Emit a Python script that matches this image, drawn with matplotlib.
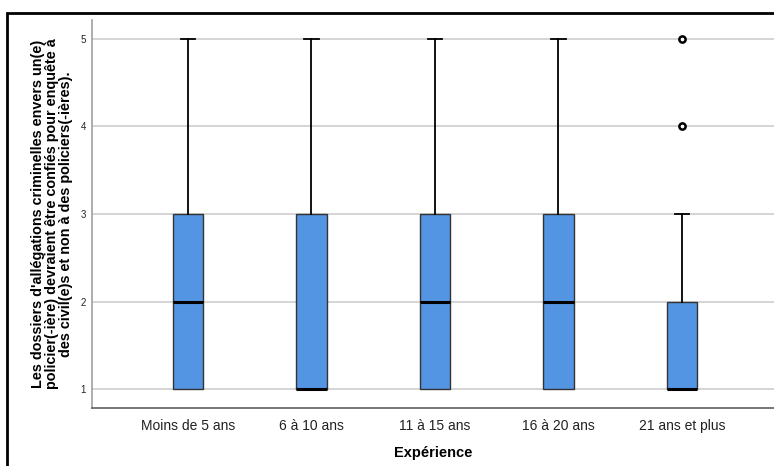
import matplotlib
matplotlib.use("Agg")
import matplotlib.pyplot as plt
from matplotlib.patches import Rectangle

plt.rcParams['font.family'] = ['Liberation Sans', 'DejaVu Sans']

categories = ["Moins de 5 ans", "6 à 10 ans", "11 à 15 ans", "16 à 20 ans", "21 ans et plus"]
whislo = [1, 1, 1, 1, 1]
q1 = [1, 1, 1, 1, 1]
med = [2, 1, 2, 2, 1]
q3 = [3, 3, 3, 3, 2]
whishi = [5, 5, 5, 5, 3]
fliers = [[], [], [], [], [4, 5]]

stats = []
for i, name in enumerate(categories):
    stats.append(dict(label=name, whislo=whislo[i], q1=q1[i], med=med[i],
                      q3=q3[i], whishi=whishi[i], fliers=fliers[i]))

fig = plt.figure(figsize=(7.74, 4.66), dpi=100)
ax = fig.add_axes([92 / 774, 1 - 408 / 466, 1 - 92 / 774, (408 - 20) / 466])

positions = list(range(1, len(categories) + 1))
bp = ax.bxp(stats, positions=positions, widths=0.25, patch_artist=True,
            boxprops=dict(facecolor='#5394e3', edgecolor='#333333', linewidth=1.0),
            medianprops=dict(color='black', linewidth=2.2),
            whiskerprops=dict(color='black', linewidth=1.3),
            capprops=dict(color='black', linewidth=1.3),
            capwidths=0.12,
            flierprops=dict(marker='o', markerfacecolor='white', markeredgecolor='black',
                            markersize=4.5, markeredgewidth=1.8),
            zorder=3)

# no lower cap / whisker when the minimum equals the first quartile
for i in range(len(categories)):
    if whislo[i] == q1[i]:
        bp['caps'][2 * i].set_visible(False)
        bp['whiskers'][2 * i].set_visible(False)

ax.set_xlim(0.2227, 5.745)
ax.set_ylim(0.783, 5.217)
ax.set_yticks([1, 2, 3, 4, 5])
ax.yaxis.grid(True, color='#d4d4d4', linewidth=1.4, zorder=0)
ax.set_axisbelow(True)
ax.tick_params(axis='y', length=0, labelsize=7, pad=4.2, colors='#222222')
ax.tick_params(axis='x', length=0, labelsize=10, pad=8, colors='#222222')
ax.set_xticks(positions)
ax.set_xticklabels(categories)
for s in ['top', 'right']:
    ax.spines[s].set_visible(False)
ax.spines['left'].set_color('#a0a0a0')
ax.spines['left'].set_linewidth(1.2)
ax.spines['bottom'].set_color('#606060')
ax.spines['bottom'].set_linewidth(1.2)

ax.set_xlabel("Expérience", fontsize=10.5, fontweight='bold', labelpad=9)
ax.set_ylabel("Les dossiers d'allégations criminelles envers un(e)\n"
              "policier(-ière) devraient être confiés pour enquête à\n"
              "des civil(e)s et non à des policiers(-ières).",
              fontsize=10.4, fontweight='bold', labelpad=5.6, linespacing=1.0,
              multialignment='center')

fig.patches.append(Rectangle((7 / 774, -0.1), 1.2, 1 - 13 / 466 + 0.1,
                             transform=fig.transFigure, fill=False,
                             edgecolor='black', linewidth=2.0))

fig.savefig("out.png", dpi=100)
